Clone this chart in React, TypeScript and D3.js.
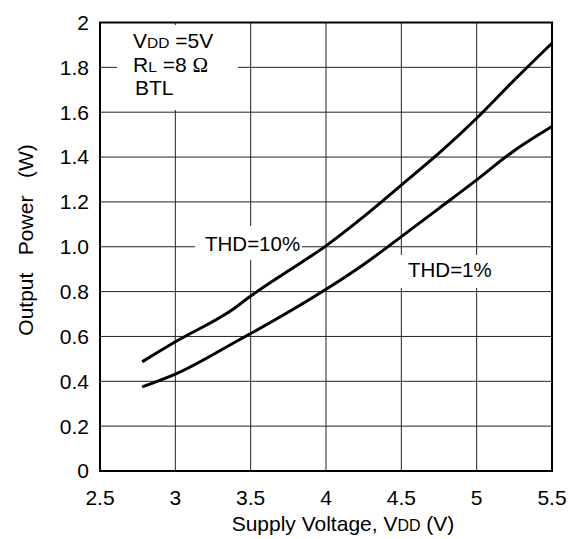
import React from "react";
import * as d3 from "d3";

// THD = 10% curve
const voltage10 = [2.78, 3.0, 3.39, 3.5, 3.74, 4.0, 4.25, 4.5, 4.75, 5.0, 5.24, 5.5];
const power10 = [0.487, 0.576, 0.725, 0.78, 0.888, 1.004, 1.134, 1.275, 1.417, 1.573, 1.737, 1.908];

// THD = 1% curve
const voltage1 = [2.78, 3.0, 3.44, 3.5, 4.0, 4.25, 4.5, 4.75, 5.0, 5.24, 5.5];
const power1 = [0.375, 0.432, 0.591, 0.613, 0.81, 0.921, 1.045, 1.171, 1.298, 1.424, 1.536];

const xTicks = [2.5, 3, 3.5, 4, 4.5, 5, 5.5];
const xTickLabels = ["2.5", "3", "3.5", "4", "4.5", "5", "5.5"];
const yTicks = [0, 0.2, 0.4, 0.6, 0.8, 1.0, 1.2, 1.4, 1.6, 1.8, 2];
const yTickLabels = ["0", "0.2", "0.4", "0.6", "0.8", "1.0", "1.2", "1.4", "1.6", "1.8", "2"];

const W = 576;
const H = 539;
const font = "'Liberation Sans', Arial, sans-serif";

export default function App() {
    const x = d3.scaleLinear().domain([2.5, 5.5]).range([100, 552]);
    const y = d3.scaleLinear().domain([0, 2]).range([471, 22.5]);

    const line = d3.line<[number, number]>()
        .x(d => x(d[0]))
        .y(d => y(d[1]))
        .curve(d3.curveMonotoneX);

    const pts10 = voltage10.map((v, i) => [v, power10[i]] as [number, number]);
    const pts1 = voltage1.map((v, i) => [v, power1[i]] as [number, number]);

    return (
        <svg width={W} height={H} style={{ position: "absolute", left: 0, top: 0, background: "#fff" }} fontFamily={font}>
            {/* grid */}
            {xTicks.slice(1, -1).map(t => (
                <line key={"vx" + t} x1={x(t)} x2={x(t)} y1={y(0)} y2={y(2)} stroke="#222" strokeWidth={1} />
            ))}
            {yTicks.slice(1, -1).map(t => (
                <line key={"hy" + t} x1={x(2.5)} x2={x(5.5)} y1={y(t)} y2={y(t)} stroke="#222" strokeWidth={1} />
            ))}

            {/* label backgrounds that break the grid */}
            <rect x={117} y={25} width={121} height={85} fill="#fff" />
            <rect x={195} y={226} width={107} height={34} fill="#fff" />
            <rect x={400} y={255} width={96} height={33} fill="#fff" />

            {/* frame */}
            <rect x={x(2.5)} y={y(2)} width={x(5.5) - x(2.5)} height={y(0) - y(2)} fill="none" stroke="#000" strokeWidth={2} />

            {/* curves */}
            <path d={line(pts10) ?? ""} fill="none" stroke="#000" strokeWidth={3} />
            <path d={line(pts1) ?? ""} fill="none" stroke="#000" strokeWidth={3} />

            {/* conditions */}
            <text x={133} y={48} fontSize={21}>
                V<tspan fontSize={15.5}>DD</tspan> =5V
            </text>
            <text x={133} y={72} fontSize={21}>
                R<tspan fontSize={15.5}>L</tspan> =8 <tspan fontFamily="'Liberation Serif', serif">Ω</tspan>
            </text>
            <text x={135} y={95} fontSize={21}>BTL</text>

            <text x={205} y={251} fontSize={20.5}>THD=10%</text>
            <text x={408} y={277} fontSize={20.5}>THD=1%</text>

            {/* x ticks */}
            {xTicks.map((t, i) => (
                <text key={"xl" + t} x={x(t)} y={505} fontSize={21} textAnchor="middle">{xTickLabels[i]}</text>
            ))}
            {/* y ticks */}
            {yTicks.map((t, i) => (
                <text key={"yl" + t} x={89} y={y(t)} dy="0.35em" fontSize={21} textAnchor="end">{yTickLabels[i]}</text>
            ))}

            <text x={343} y={531} fontSize={21} textAnchor="middle">
                Supply Voltage, V<tspan fontSize={16}>DD</tspan> (V)
            </text>
            <text transform="translate(33,240) rotate(-90)" fontSize={21} textAnchor="middle" style={{ whiteSpace: "pre" }}>
                {"Output   Power   (W)"}
            </text>
        </svg>
    );
}
